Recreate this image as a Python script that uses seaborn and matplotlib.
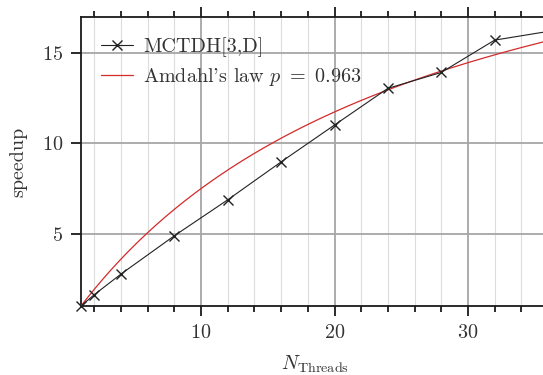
import numpy as np
import pandas as pd
import matplotlib
matplotlib.use('Agg')
import matplotlib.pyplot as plt
import seaborn as sns

threads = [1, 2, 4, 8, 12, 16, 20, 24, 28, 32, 36]
speedup = [1.0, 1.63, 2.77, 4.89, 6.88, 8.98, 11.02, 13.05, 13.93, 15.72, 16.2]

# Ley de Amdahl
p_amdahl = 0.963
n_curve = np.linspace(1, 36, 200)
s_curve = 1 / ((1 - p_amdahl) + p_amdahl / n_curve)

sns.set_style('ticks')
plt.rcParams['font.family'] = 'serif'
plt.rcParams['font.serif'] = ['cmr10']
plt.rcParams['mathtext.fontset'] = 'cm'
plt.rcParams['axes.formatter.use_mathtext'] = True
plt.rcParams['font.size'] = 14.5

data = pd.DataFrame({'threads': threads, 'speedup': speedup})
amdahl = pd.DataFrame({'threads': n_curve, 'speedup': s_curve})

fig = plt.figure(figsize=(5.43, 3.75), dpi=100)
ax = fig.add_axes([81 / 543, 69 / 375, 467 / 543, 289 / 375])

sns.lineplot(data=data, x='threads', y='speedup', ax=ax, color='#222222',
             marker='x', markersize=7, markeredgewidth=1.0,
             markeredgecolor='#222222', linewidth=0.8,
             label='MCTDH[3,D]', zorder=4, clip_on=False)
sns.lineplot(data=amdahl, x='threads', y='speedup', ax=ax, color='#d42a2a',
             linewidth=0.9, label=r"Amdahl's law $p\ =\ 0.963$", zorder=3)

ax.set_xlim(1, 36)
ax.set_ylim(1, 17)
ax.set_xticks([10, 20, 30])
ax.set_xticks(np.arange(2, 37, 2), minor=True)
ax.set_yticks([5, 10, 15])

ax.grid(which='major', color='#a6a6a6', linewidth=1.3)
ax.grid(which='minor', axis='x', color='#dcdcdc', linewidth=0.8)
ax.set_axisbelow(True)

for s in ax.spines.values():
    s.set_linewidth(1.3)
    s.set_color('#1a1a1a')
ax.tick_params(which='major', direction='out', length=7, width=1.3,
               top=True, colors='#1a1a1a', labelcolor='#333333', pad=6)
ax.tick_params(which='minor', direction='out', length=4.5, width=1.3,
               top=True, colors='#1a1a1a')

ax.set_xlabel(r'$N_\mathrm{Threads}$', labelpad=8, color='#333333')
ax.set_ylabel('speedup', labelpad=10, color='#333333')

ax.legend(loc='upper left', frameon=False, handlelength=1.6,
          handletextpad=0.5, labelspacing=0.45, borderaxespad=0.6,
          labelcolor='#333333')

fig.savefig('out.png', dpi=100)
